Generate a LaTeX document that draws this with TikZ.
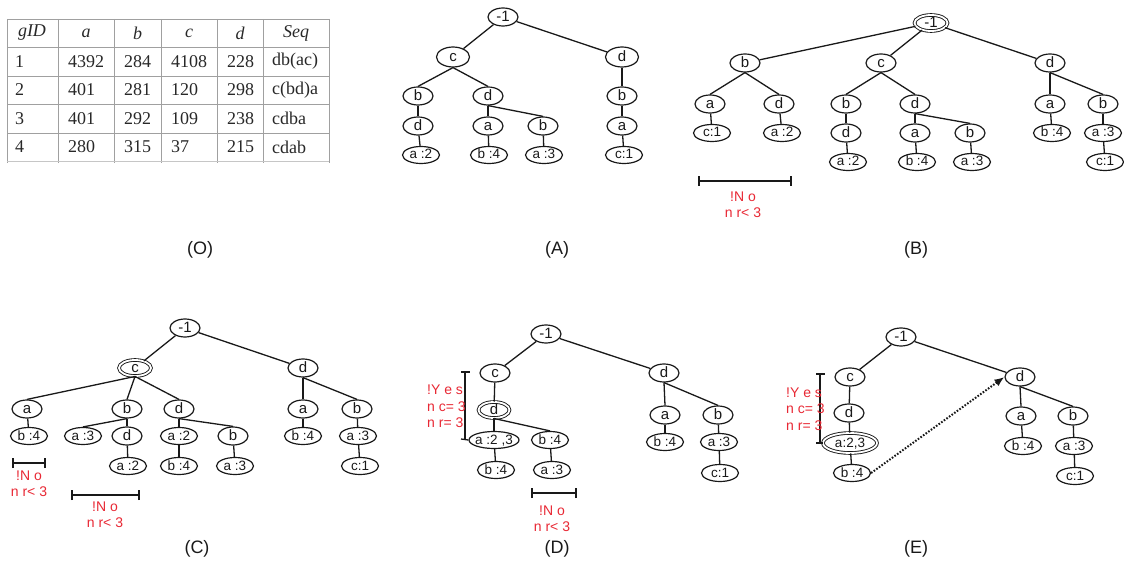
\documentclass[tikz,border=0pt]{standalone}
\usepackage{fontspec}
\setmainfont{Liberation Sans}
\newfontfamily\tabfont{Liberation Serif}
\usetikzlibrary{shapes.geometric,arrows.meta}
\definecolor{redtxt}{RGB}{232,40,52}
\definecolor{tabline}{RGB}{160,160,160}
\definecolor{tabtxt}{RGB}{40,40,40}
\definecolor{ink}{RGB}{25,25,25}
\tikzset{
  nd/.style={draw=ink, ellipse, line width=1.2pt, inner sep=0pt, text height=8.5pt, text depth=0pt,
    minimum width=30pt, minimum height=18pt, text=ink, font=\fontsize{15}{15}\selectfont},
  lf/.style={nd, minimum width=37pt, minimum height=17pt, text height=8pt, font=\fontsize{13.5}{14}\selectfont},
  dbl/.style={double, double distance=1.8pt, line width=0.9pt},
  ed/.style={draw=ink, line width=1.3pt},
  redlab/.style={text=redtxt, font=\fontsize{14}{15}\selectfont, inner sep=0pt},
  redlabl/.style={redlab, anchor=west},
  captxt/.style={font=\fontsize{18}{18}\selectfont, inner sep=0pt, text=ink},
  bar/.style={draw=ink, line width=1.3pt},
  th/.style={font=\tabfont\itshape\fontsize{18}{18}\selectfont, text=tabtxt, inner sep=0pt},
  td/.style={font=\tabfont\fontsize{18}{18}\selectfont, text=tabtxt, inner sep=0pt, anchor=west},
}
\begin{document}
\begin{tikzpicture}[x=1pt,y=-1pt]
\useasboundingbox (0,0) rectangle (1124,569);
% ---------- Table (O)
\foreach \x in {7,58,114,161,217,263,329} \draw[tabline, line width=0.8pt] (\x,19) -- (\x,163);
\foreach \y in {19,47,76,104,133} \draw[tabline, line width=0.8pt] (7,\y) -- (329,\y);
\draw[tabline!60, line width=0.6pt] (7,161) -- (329,161);
\node[th] (h0) at (32,33) {gID};
\node[th] (h1) at (86,33) {a};
\node[th] (h2) at (137.5,33) {b};
\node[th] (h3) at (189,33) {c};
\node[th] (h4) at (240,33) {d};
\node[th] (h5) at (296,33) {Seq};
\foreach \r/\y/\a/\b/\c/\d/\s in {1/61.5/4392/284/4108/228/db(ac), 2/90/401/281/120/298/c(bd)a, 3/118.5/401/292/109/238/cdba, 4/147/280/315/37/215/cdab}{
  \node[td] (r\r g) at (15,\y) {\r};
  \node[td] (r\r a) at (68,\y) {\a};
  \node[td] (r\r b) at (124,\y) {\b};
  \node[td] (r\r c) at (171,\y) {\c};
  \node[td] (r\r d) at (227,\y) {\d};
  \node[td] (r\r s) at (272,\y) {\s};
}
\node[captxt] (capO) at (200,250) {(O)};
% ---------- Tree A
\node[nd] (A0) at (503,17) {-1};
\node[nd, minimum width=33pt, minimum height=20pt] (Ac) at (453,57) {c};
\node[nd, minimum width=33pt, minimum height=20pt] (Ad) at (622,57) {d};
\node[nd] (Acb) at (418,96) {b};
\node[nd] (Acd) at (488,96) {d};
\node[nd] (Adb) at (622,96) {b};
\node[nd] (Acbd) at (418,126) {d};
\node[nd] (Acda) at (488,126) {a};
\node[nd] (Acdb) at (543,126) {b};
\node[nd] (Adba) at (622,126) {a};
\node[lf] (Al1) at (421,155) {a :2};
\node[lf] (Al2) at (489,155) {b :4};
\node[lf] (Al3) at (544,155) {a :3};
\node[lf] (Al4) at (624,155) {c:1};
\draw[ed] (A0) -- (Ac);
\draw[ed] (A0) -- (Ad);
\draw[ed] (Ac.south) -- (Acb.north);
\draw[ed] (Ac.south) -- (Acd.north);
\draw[ed] (Ad) -- (Adb);
\draw[ed] (Acb) -- (Acbd);
\draw[ed] (Acd.south) -- (Acda.north);
\draw[ed] (Acd.south) -- (Acdb.north);
\draw[ed] (Adb) -- (Adba);
\draw[ed] (Acbd) -- (Al1);
\draw[ed] (Acda) -- (Al2);
\draw[ed] (Acdb) -- (Al3);
\draw[ed] (Adba) -- (Al4);
\node[captxt] (capA) at (557,250) {(A)};
% ---------- Tree B
\node[nd, dbl, minimum width=33pt, minimum height=16pt] (B0) at (931,23) {-1};
\node[nd] (Bb) at (745,63) {b};
\node[nd] (Bc) at (881,63) {c};
\node[nd] (Bd) at (1050,63) {d};
\node[nd] (Bba) at (710,104) {a};
\node[nd] (Bbd) at (779,104) {d};
\node[nd] (Bcb) at (846,104) {b};
\node[nd] (Bcd) at (915,104) {d};
\node[nd] (Bda) at (1050,104) {a};
\node[nd] (Bdb) at (1103,104) {b};
\node[lf] (Bbal) at (712,133) {c:1};
\node[lf] (Bbdl) at (782,133) {a :2};
\node[nd] (Bcbd) at (846,133) {d};
\node[nd] (Bcda) at (915,133) {a};
\node[nd] (Bcdb) at (970,133) {b};
\node[lf] (Bdal) at (1052,133) {b :4};
\node[lf] (Bdbl) at (1103,133) {a :3};
\node[lf] (Bcbdl) at (848,162) {a :2};
\node[lf] (Bcdal) at (917,162) {b :4};
\node[lf] (Bcdbl) at (972,162) {a :3};
\node[lf] (Bdbll) at (1105,162) {c:1};
\draw[ed] (B0) -- (Bb);
\draw[ed] (B0) -- (Bc);
\draw[ed] (B0) -- (Bd);
\draw[ed] (Bb.south) -- (Bba.north);
\draw[ed] (Bb.south) -- (Bbd.north);
\draw[ed] (Bc.south) -- (Bcb.north);
\draw[ed] (Bc.south) -- (Bcd.north);
\draw[ed] (Bd.south) -- (Bda.north);
\draw[ed] (Bd.south) -- (Bdb.north);
\draw[ed] (Bba) -- (Bbal);
\draw[ed] (Bbd) -- (Bbdl);
\draw[ed] (Bcb) -- (Bcbd);
\draw[ed] (Bcd.south) -- (Bcda.north);
\draw[ed] (Bcd.south) -- (Bcdb.north);
\draw[ed] (Bda) -- (Bdal);
\draw[ed] (Bdb) -- (Bdbl);
\draw[ed] (Bcbd) -- (Bcbdl);
\draw[ed] (Bcda) -- (Bcdal);
\draw[ed] (Bcdb) -- (Bcdbl);
\draw[ed] (Bdbl) -- (Bdbll);
\coordinate (Bx1) at (699,181);
\coordinate (Bx2) at (791,181);
\draw[bar] (Bx1) -- (Bx2);
\draw[bar] ([yshift=-5pt]Bx1) -- ([yshift=5pt]Bx1);
\draw[bar] ([yshift=-5pt]Bx2) -- ([yshift=5pt]Bx2);
\node[redlab] (Bt1) at (743,197) {!N o};
\node[redlab] (Bt2) at (743,213) {n r< 3};
\node[captxt] (capB) at (916,250) {(B)};
% ---------- Tree C
\node[nd] (C0) at (185,328) {-1};
\node[nd, dbl, minimum width=32pt, minimum height=16pt] (Cc) at (135,368) {c};
\node[nd] (Cd) at (303,368) {d};
\node[nd] (Cca) at (27,409) {a};
\node[nd] (Ccb) at (127,409) {b};
\node[nd] (Ccd) at (179,409) {d};
\node[nd] (Cda) at (303,409) {a};
\node[nd] (Cdb) at (357,409) {b};
\node[lf] (Ccal) at (29,436) {b :4};
\node[lf] (Ccba) at (83,436) {a :3};
\node[nd] (Ccbd) at (127,436) {d};
\node[lf] (Ccda) at (179,436) {a :2};
\node[nd] (Ccdb) at (233,436) {b};
\node[lf] (Cdal) at (303,436) {b :4};
\node[lf] (Cdbl) at (358,436) {a :3};
\node[lf] (Ccbdl) at (128,466) {a :2};
\node[lf] (Ccdal) at (179,466) {b :4};
\node[lf] (Ccdbl) at (235,466) {a :3};
\node[lf] (Cdbll) at (360,466) {c:1};
\draw[ed] (C0) -- (Cc);
\draw[ed] (C0) -- (Cd);
\draw[ed] (Cc.south) -- (Cca.north);
\draw[ed] (Cc.south) -- (Ccb.north);
\draw[ed] (Cc.south) -- (Ccd.north);
\draw[ed] (Cd.south) -- (Cda.north);
\draw[ed] (Cd.south) -- (Cdb.north);
\draw[ed] (Cca) -- (Ccal);
\draw[ed] (Ccb.south) -- (Ccba.north);
\draw[ed] (Ccb) -- (Ccbd);
\draw[ed] (Ccd) -- (Ccda);
\draw[ed] (Ccd.south) -- (Ccdb.north);
\draw[ed] (Cda) -- (Cdal);
\draw[ed] (Cdb) -- (Cdbl);
\draw[ed] (Ccbd) -- (Ccbdl);
\draw[ed] (Ccda) -- (Ccdal);
\draw[ed] (Ccdb) -- (Ccdbl);
\draw[ed] (Cdbl) -- (Cdbll);
\coordinate (Cx1) at (13,463);
\coordinate (Cx2) at (45,463);
\draw[bar] (Cx1) -- (Cx2);
\draw[bar] ([yshift=-5pt]Cx1) -- ([yshift=5pt]Cx1);
\draw[bar] ([yshift=-5pt]Cx2) -- ([yshift=5pt]Cx2);
\node[redlab] (Ct1) at (29,476) {!N o};
\node[redlab] (Ct2) at (29,492) {n r< 3};
\coordinate (Cy1) at (72,495);
\coordinate (Cy2) at (139,495);
\draw[bar] (Cy1) -- (Cy2);
\draw[bar] ([yshift=-5pt]Cy1) -- ([yshift=5pt]Cy1);
\draw[bar] ([yshift=-5pt]Cy2) -- ([yshift=5pt]Cy2);
\node[redlab] (Ct3) at (105,507) {!N o};
\node[redlab] (Ct4) at (105,523) {n r< 3};
\node[captxt] (capC) at (197,549) {(C)};
% ---------- Tree D
\node[nd] (D0) at (546,334) {-1};
\node[nd] (Dc) at (495,373) {c};
\node[nd] (Dd) at (664,373) {d};
\node[nd, dbl, minimum width=31pt, minimum height=16pt] (Dcd) at (494,410) {d};
\node[nd] (Dda) at (665,415) {a};
\node[nd] (Ddb) at (718,415) {b};
\node[lf, minimum width=50pt] (Dcda) at (494,440) {\makebox[26pt][c]{a :2 ,3}};
\node[lf] (Dcdb) at (550,440) {b :4};
\node[lf] (Ddal) at (665,442) {b :4};
\node[lf] (Ddbl) at (719,442) {a :3};
\node[lf] (Dcdal) at (496,470) {b :4};
\node[lf] (Dcdbl) at (552,470) {a :3};
\node[lf] (Ddbll) at (720,473) {c:1};
\draw[ed] (D0) -- (Dc);
\draw[ed] (D0) -- (Dd);
\draw[ed] (Dc) -- (Dcd);
\draw[ed] (Dd.south) -- (Dda.north);
\draw[ed] (Dd.south) -- (Ddb.north);
\draw[ed] (Dcd) -- (Dcda);
\draw[ed] (Dcd.south) -- (Dcdb.north);
\draw[ed] (Dda) -- (Ddal);
\draw[ed] (Ddb) -- (Ddbl);
\draw[ed] (Dcda) -- (Dcdal);
\draw[ed] (Dcdb) -- (Dcdbl);
\draw[ed] (Ddbl) -- (Ddbll);
\coordinate (Dv1) at (465,372);
\coordinate (Dv2) at (465,439);
\draw[bar] (Dv1) -- (Dv2);
\draw[bar] ([xshift=-4pt]Dv1) -- ([xshift=5pt]Dv1);
\draw[bar] ([xshift=-4pt]Dv2) -- (Dcda.west);
\node[redlabl] (Dt1) at (427,390) {!Y e s};
\node[redlabl] (Dt2) at (427,407) {n c= 3};
\node[redlabl] (Dt3) at (427,423) {n r= 3};
\coordinate (Dx1) at (532,493);
\coordinate (Dx2) at (576,493);
\draw[bar] (Dx1) -- (Dx2);
\draw[bar] ([yshift=-5pt]Dx1) -- ([yshift=5pt]Dx1);
\draw[bar] ([yshift=-5pt]Dx2) -- ([yshift=5pt]Dx2);
\node[redlab] (Dt4) at (552,511) {!N o};
\node[redlab] (Dt5) at (552,527) {n r< 3};
\node[captxt] (capD) at (557,549) {(D)};
% ---------- Tree E
\node[nd] (E0) at (901,337) {-1};
\node[nd] (Ec) at (850,377) {c};
\node[nd] (Ed) at (1020,377) {d};
\node[nd] (Ecd) at (849,413) {d};
\node[nd] (Eda) at (1021,416) {a};
\node[nd] (Edb) at (1073,416) {b};
\node[lf, dbl, minimum width=54pt, minimum height=20pt] (Ecda) at (850,443) {\makebox[30pt][c]{a:2,3}};
\node[lf] (Ecdal) at (852,473) {b :4};
\node[lf] (Edal) at (1023,446) {b :4};
\node[lf] (Edbl) at (1074,446) {a :3};
\node[lf] (Edbll) at (1075,476) {c:1};
\draw[ed] (E0) -- (Ec);
\draw[ed] (E0) -- (Ed);
\draw[ed] (Ec) -- (Ecd);
\draw[ed] (Ed.south) -- (Eda.north);
\draw[ed] (Ed.south) -- (Edb.north);
\draw[ed] (Ecd) -- (Ecda);
\draw[ed] (Ecda) -- (Ecdal);
\draw[ed] (Edb) -- (Edbl);
\draw[ed] (Eda) -- (Edal);
\draw[ed] (Edbl) -- (Edbll);
\draw[ink, line width=2pt, dash pattern=on 1.6pt off 1.6pt, -{Latex[length=10pt,width=8pt]}] (Ecdal.east) -- (Ed.west);
\coordinate (Ev1) at (820,374);
\coordinate (Ev2) at (820,443);
\draw[bar] (Ev1) -- (Ev2);
\draw[bar] ([xshift=-4pt]Ev1) -- ([xshift=5pt]Ev1);
\draw[bar] ([xshift=-4pt]Ev2) -- (Ecda.west);
\node[redlabl] (Et1) at (786,393) {!Y e s};
\node[redlabl] (Et2) at (786,409) {n c= 3};
\node[redlabl] (Et3) at (786,426) {n r= 3};
\node[captxt] (capE) at (916,549) {(E)};
\end{tikzpicture}
\end{document}
